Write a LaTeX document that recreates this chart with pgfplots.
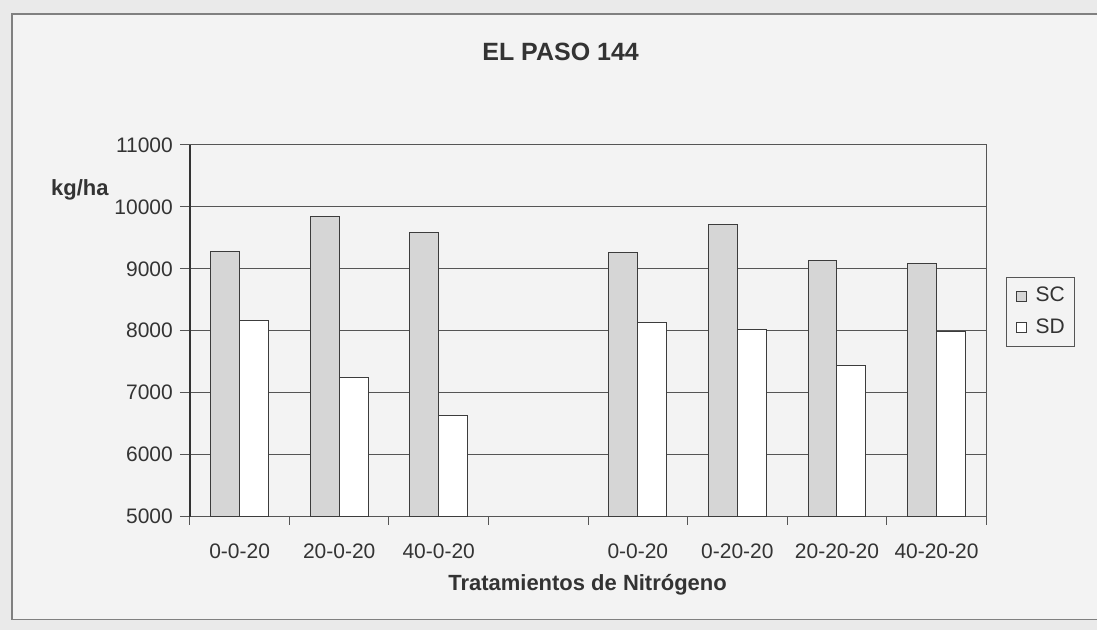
\documentclass[border=0pt]{standalone}
\usepackage{pgfplots}
\pgfplotsset{compat=1.18}
\usepackage{fontspec}
\setmainfont{Liberation Sans}
\definecolor{bg}{HTML}{EAEAEA}
\definecolor{inner}{HTML}{F3F3F3}
\definecolor{gridc}{HTML}{555555}
\definecolor{barline}{HTML}{3C3C3C}
\definecolor{scfill}{HTML}{D6D6D6}
\definecolor{txt}{HTML}{333333}
\begin{document}
\begin{tikzpicture}
\fill[bg] (-95pt,-56.5pt) rectangle (454pt,258.5pt);
\fill[inner] (-89pt,-51.5pt) rectangle (454pt,251.5pt);
\draw[gray, line width=0.8pt] (454pt,251.5pt) -- (-89pt,251.5pt) -- (-89pt,-51.5pt) -- (454pt,-51.5pt);
\begin{axis}[
  at={(0pt,0pt)}, anchor=south west,
  scale only axis, width=398.5pt, height=186pt,
  xmin=0.5, xmax=8.5, ymin=5000, ymax=11000,
  ytick={5000,6000,...,11000},
  scaled y ticks=false,
  ymajorgrids, grid style={gridc, line width=0.5pt},
  xtick={1,2,3,5,6,7,8},
  xticklabels={0-0-20,20-0-20,40-0-20,0-0-20,0-20-20,20-20-20,40-20-20},
  major x tick style={draw=none},
  minor xtick={0.5,1.5,...,8.5},
  xtick pos=left, ytick pos=left,
  tick align=outside,
  major tick length=5pt, minor tick length=4pt,
  tick style={gridc, line width=0.5pt},
  axis line style={gridc, line width=0.6pt},
  axis background/.style={fill=inner},
  ticklabel style={font=\fontsize{10.5}{12}\selectfont, text=txt},
  xticklabel style={yshift=-5pt},
  yticklabel style={xshift=0pt},
  /pgf/number format/assume math mode=true,
  /pgf/number format/set thousands separator={},
  ybar=0pt, bar width=0.29,
  legend style={at={(1.025,0.645)}, anchor=north west, draw=gridc, fill=inner,
    font=\fontsize{10.5}{12}\selectfont, text=txt, row sep=3pt, inner sep=3pt},
  legend cell align=left,
  legend image code/.code={\draw[#1] (1.5pt,-2.5pt) rectangle (6.5pt,2.5pt); \path (0pt,0pt) (9pt,0pt);},
]
\addplot[draw=barline, fill=scfill, line width=0.5pt] coordinates {
  (1,9280) (2,9840) (3,9590) (5,9260) (6,9720) (7,9130) (8,9090)};
\addplot[draw=barline, fill=white, line width=0.5pt] coordinates {
  (1,8170) (2,7250) (3,6630) (5,8130) (6,8020) (7,7440) (8,7990)};
\legend{SC,SD}
\end{axis}
\draw[black!80, line width=0.7pt] (0pt,0pt) -- (0pt,186pt);
\node[font=\bfseries\fontsize{12.5}{15}\selectfont, text=txt] at (185.5pt,232.5pt) {EL PASO 144};
\node[font=\bfseries\fontsize{11}{13}\selectfont, text=txt] at (-55pt,163.5pt) {kg/ha};
\node[font=\bfseries\fontsize{11}{13}\selectfont, text=txt] at (199pt,-34pt) {Tratamientos de Nitrógeno};
\end{tikzpicture}
\end{document}
